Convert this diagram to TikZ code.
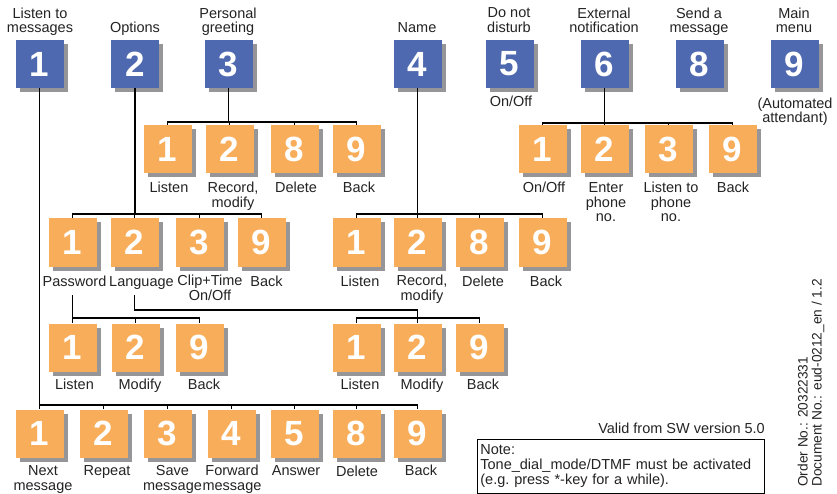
\documentclass[tikz,border=0pt]{standalone}
\usepackage{fontspec}
\setmainfont{Liberation Sans}
\usetikzlibrary{shadows}
\definecolor{keyblue}{RGB}{79,105,176}
\definecolor{keyorange}{RGB}{248,173,90}
\definecolor{keyshadow}{RGB}{150,150,152}
\definecolor{txtgray}{RGB}{35,35,35}

\begin{document}
\begin{tikzpicture}[x=1pt,y=-1pt,
	key/.style={minimum size=48pt,inner sep=0pt,text=white,font=\fontsize{35}{35}\selectfont\bfseries,
		drop shadow={shadow xshift=4pt,shadow yshift=-4pt,fill=keyshadow,opacity=1}},
	mainkey/.style={key,fill=keyblue},
	subkey/.style={key,fill=keyorange},
	lbl/.style={anchor=base,align=center,inner sep=0pt,text=txtgray,font=\fontsize{14.5}{14.6}\selectfont},
	conn/.style={line width=1.2pt}]
	\useasboundingbox (0,0) rectangle (837,494);

	%MAIN MENU KEYS
	\node[mainkey] (m1) at (39.5,64)	{1};
	\node[mainkey] (m2) at (135,64)		{2};
	\node[mainkey] (m3) at (228.5,64)	{3};
	\node[mainkey] (m4) at (417.5,64)	{4};
	\node[mainkey] (m5) at (509.5,64)	{5};
	\node[mainkey] (m6) at (604.5,64)	{6};
	\node[mainkey] (m8) at (699.5,64)	{8};
	\node[mainkey] (m9) at (794.5,64)	{9};
	%labels: base = last line
	\node[lbl] (tm1) at (40,33)		{Listen to\\messages};
	\node[lbl] (tm2) at (135,33)	{Options};
	\node[lbl] (tm3) at (228,33)	{Personal\\greeting};
	\node[lbl] (tm4) at (417,33)	{Name};
	\node[lbl] (tm5) at (509,32.5)	{Do not\\disturb};
	\node[lbl] (tm6) at (604,33)	{External\\notification};
	\node[lbl] (tm8) at (699,33)	{Send a\\message};
	\node[lbl] (tm9) at (794,33)	{Main\\menu};
	\node[lbl] (bm5) at (511,107)	{On/Off};
	\node[lbl] (bm9) at (795,123)	{(Automated\\attendant)};

	%PERSONAL GREETING
	\node[subkey] (g1) at (167.5,149)	{1};
	\node[subkey] (g2) at (229.5,149)	{2};
	\node[subkey] (g8) at (294.5,149)	{8};
	\node[subkey] (g9) at (356.5,149)	{9};
	\node[lbl] (tg1) at (169,193)	{Listen};
	\node[lbl] (tg2) at (233,207.5)	{Record,\\modify};
	\node[lbl] (tg8) at (296,193)	{Delete};
	\node[lbl] (tg9) at (359,193)	{Back};

	%EXTERNAL NOTIFICATION
	\node[subkey] (e1) at (542.5,149)	{1};
	\node[subkey] (e2) at (604.5,149)	{2};
	\node[subkey] (e3) at (668.5,149)	{3};
	\node[subkey] (e9) at (732.5,149)	{9};
	\node[lbl] (te1) at (544,193)	{On/Off};
	\node[lbl] (te2) at (606,222)	{Enter\\phone\\no.};
	\node[lbl] (te3) at (671,222)	{Listen to\\phone\\no.};
	\node[lbl] (te9) at (733,193)	{Back};

	%OPTIONS
	\node[subkey] (o1) at (72.5,242.5)	{1};
	\node[subkey] (o2) at (134.5,242.5)	{2};
	\node[subkey] (o3) at (199.5,242.5)	{3};
	\node[subkey] (o9) at (261.5,242.5)	{9};
	\node[lbl] (to1) at (74.5,286)	{Password};
	\node[lbl] (to2) at (141.5,286)	{Language};
	\node[lbl] (to3) at (210,300.5)	{Clip+Time\\On/Off};
	\node[lbl] (to9) at (266.5,286)	{Back};

	%NAME
	\node[subkey] (n1) at (356.5,242.5)	{1};
	\node[subkey] (n2) at (417.5,242.5)	{2};
	\node[subkey] (n8) at (479.5,242.5)	{8};
	\node[subkey] (n9) at (542.5,242.5)	{9};
	\node[lbl] (tn1) at (360,286)	{Listen};
	\node[lbl] (tn2) at (422,300.5)	{Record,\\modify};
	\node[lbl] (tn8) at (483,286)	{Delete};
	\node[lbl] (tn9) at (546,286)	{Back};

	%PASSWORD
	\node[subkey] (p1) at (72.5,347.5)	{1};
	\node[subkey] (p2) at (135.5,347.5)	{2};
	\node[subkey] (p9) at (199.5,347.5)	{9};
	\node[lbl] (tp1) at (74.5,389)	{Listen};
	\node[lbl] (tp2) at (140,389)	{Modify};
	\node[lbl] (tp9) at (204,389)	{Back};

	%LANGUAGE
	\node[subkey] (la1) at (356.5,347.5)	{1};
	\node[subkey] (la2) at (417.5,347.5)	{2};
	\node[subkey] (la9) at (479.5,347.5)	{9};
	\node[lbl] (tla1) at (360,389)	{Listen};
	\node[lbl] (tla2) at (422,389)	{Modify};
	\node[lbl] (tla9) at (483,389)	{Back};

	%LISTEN TO MESSAGES
	\node[subkey] (v1) at (39.5,433.5)	{1};
	\node[subkey] (v2) at (103.5,433.5)	{2};
	\node[subkey] (v3) at (167.5,433.5)	{3};
	\node[subkey] (v4) at (231.5,433.5)	{4};
	\node[subkey] (v5) at (294.5,433.5)	{5};
	\node[subkey] (v8) at (356.5,433.5)	{8};
	\node[subkey] (v9) at (417.5,433.5)	{9};
	\node[lbl] (tv1) at (43,490.5)	{Next\\message};
	\node[lbl] (tv2) at (107,475.5)	{Repeat};
	\node[lbl] (tv3) at (172.5,490)	{Save\\message};
	\node[lbl] (tv4) at (232,490)	{Forward\\message};
	\node[lbl] (tv5) at (296,475.5)	{Answer};
	\node[lbl] (tv8) at (357,476)	{Delete};
	\node[lbl] (tv9) at (421,475.5)	{Back};

	%BARS
	\coordinate (gbar) at (0,122);		%greeting
	\coordinate (ebar) at (0,123);		%external notification
	\coordinate (obar) at (0,214);		%options and name
	\coordinate (pbar) at (0,318);		%password and language
	\coordinate (vbar) at (0,405);		%messages
	\coordinate (pw) at (72.5,295);		%under Password
	\coordinate (lg) at (134.5,295);	%under Language
	\coordinate (lgturn) at (0,310);

	%CONNECTORS
	\draw[conn] (m3.south) -- (m3 |- gbar);
	\draw[conn] (g1.north) -- (g1 |- gbar) -| (g9.north);
	\draw[conn] (g2.north) -- (g2 |- gbar);
	\draw[conn] (g8.north) -- (g8 |- gbar);
	%
	\draw[conn] (m6.south) -- (m6 |- ebar);
	\draw[conn] (e1.north) -- (e1 |- ebar) -| (e9.north);
	\draw[conn] (e2.north) -- (e2 |- ebar);
	\draw[conn] (e3.north) -- (e3 |- ebar);
	%
	\draw[conn] (m2.south) -- (m2 |- obar);
	\draw[conn] (o1.north) -- (o1 |- obar) -| (o9.north);
	\draw[conn] (o2.north) -- (o2 |- obar);
	\draw[conn] (o3.north) -- (o3 |- obar);
	%
	\draw[conn] (m4.south) -- (m4 |- obar);
	\draw[conn] (n1.north) -- (n1 |- obar) -| (n9.north);
	\draw[conn] (n2.north) -- (n2 |- obar);
	\draw[conn] (n8.north) -- (n8 |- obar);
	%
	\draw[conn] (pw) -- (pw |- pbar);
	\draw[conn] (p1.north) -- (p1 |- pbar) -| (p9.north);
	\draw[conn] (p2.north) -- (p2 |- pbar);
	%
	\draw[conn] (lg) -- (lg |- lgturn) -| (la2 |- pbar);
	\draw[conn] (la1.north) -- (la1 |- pbar) -| (la9.north);
	\draw[conn] (la2.north) -- (la2 |- pbar);
	%
	\draw[conn] (m1.south) -- (m1 |- vbar);
	\draw[conn] (v1.north) -- (v1 |- vbar) -| (v9.north);
	\draw[conn] (v2.north) -- (v2 |- vbar);
	\draw[conn] (v3.north) -- (v3 |- vbar);
	\draw[conn] (v4.north) -- (v4 |- vbar);
	\draw[conn] (v5.north) -- (v5 |- vbar);
	\draw[conn] (v8.north) -- (v8 |- vbar);

	%NOTES
	\node[lbl,anchor=base east] (valid) at (765,433)	{Valid from SW version 5.0};
	\node[draw,line width=0.8pt,anchor=north west,minimum width=287pt,minimum height=54pt,
		text width=281pt,inner xsep=3pt,inner ysep=0pt,align=left,text=txtgray,
		font=\fontsize{14.5}{15}\selectfont] (note) at (477,439)
		{Note:\\Tone\_dial\_mode/DTMF must be activated\\(e.g.\ press *-key for a while).};
	\node[rotate=90,anchor=north west,align=left,inner sep=0pt,text=txtgray,
		font=\fontsize{13.7}{14}\selectfont] (docno) at (797.5,487)
		{Order No.: 20322331\\Document No.: eud-0212\_en / 1.2};
\end{tikzpicture}
\end{document}
